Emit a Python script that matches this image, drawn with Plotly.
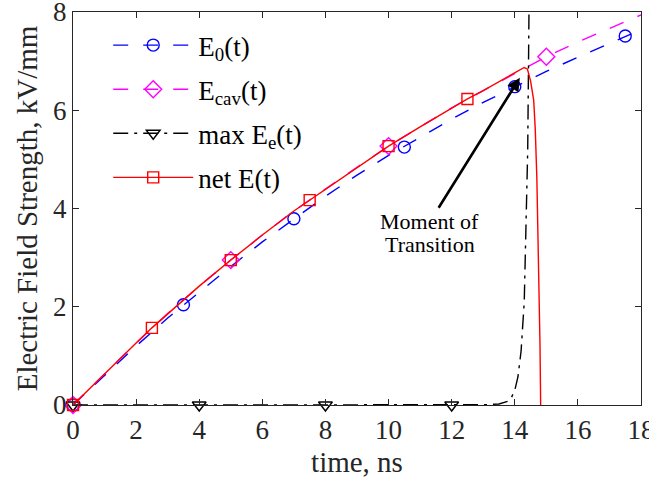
import plotly.graph_objects as go

# ---- data ----
t_grid = [0, 1, 2, 3, 4, 5, 6, 7, 8, 9, 10, 11, 12, 13, 14, 15, 16, 17, 18]
e0_vals = [0, 0.61, 1.20, 1.77, 2.30, 2.82, 3.32, 3.79, 4.25, 4.68, 5.08, 5.45,
           5.82, 6.16, 6.48, 6.79, 7.08, 7.36, 7.64]
ecav_vals = [0, 0.64, 1.26, 1.86, 2.42, 2.95, 3.46, 3.95, 4.40, 4.84, 5.27, 5.66,
             6.05, 6.40, 6.75, 7.09, 7.39, 7.67, 7.94]

t_net = [0, 1, 2, 2.5, 3, 4, 5, 6, 7, 7.5, 8, 9, 10, 11, 12, 12.5, 13, 14, 14.2,
         14.3, 14.4, 14.5, 14.6, 14.65, 14.7, 14.75, 14.8, 14.82]
net_vals = [0, 0.64, 1.26, 1.57, 1.86, 2.42, 2.95, 3.46, 3.95, 4.17, 4.40, 4.84,
            5.27, 5.66, 6.05, 6.23, 6.40, 6.75, 6.83, 6.87, 6.84, 6.60, 6.20,
            5.60, 4.60, 3.20, 1.20, 0]

t_ee = [0, 1, 2, 3, 4, 5, 6, 7, 8, 9, 10, 11, 12, 13, 13.5, 13.8, 13.9, 14.0,
        14.1, 14.2, 14.3, 14.35, 14.41, 14.45, 14.5]
ee_vals = [0, 0, 0, 0, 0, 0, 0, 0, 0, 0, 0, 0, 0, 0.005, 0.02, 0.08, 0.16, 0.30,
           0.57, 1.10, 2.10, 3.30, 5.20, 8.00, 11.0]

# marker positions
t_e0_mk = [0, 3.5, 7, 10.5, 14, 17.5]
e0_mk = [0, 2.04, 3.79, 5.25, 6.48, 7.51]
t_ecav_mk = [0, 5, 10, 15]
ecav_mk = [0, 2.95, 5.27, 7.09]
t_ee_mk = [0, 4, 8, 12]
ee_mk = [0, 0, 0, 0]
t_net_mk = [0, 2.5, 5, 7.5, 10, 12.5]
net_mk = [0, 1.57, 2.95, 4.17, 5.27, 6.23]

x_ticks = [0, 2, 4, 6, 8, 10, 12, 14, 16, 18]
y_ticks = [0, 2, 4, 6, 8]

BLUE = "#0000ff"
MAG = "#ff00ff"
BLK = "#000000"
RED = "#ff0000"
FONT = "Liberation Serif"
AX = "#262626"

series = [
    ("E<sub>0</sub>(t)", t_grid, e0_vals, t_e0_mk, e0_mk, BLUE, "longdash", "circle-open", 12),
    ("E<sub>cav</sub>(t)", t_grid, ecav_vals, t_ecav_mk, ecav_mk, MAG, "longdash", "diamond-open", 13),
    ("max E<sub>e</sub>(t)", t_ee, ee_vals, t_ee_mk, ee_mk, BLK, "longdashdot", "triangle-down-open", 12),
    ("net E(t)", t_net, net_vals, t_net_mk, net_mk, RED, "solid", "square-open", 11),
]

fig = go.Figure()
for i, (name, tx, vy, mx, my, col, dash, sym, ms) in enumerate(series):
    fig.add_trace(go.Scatter(x=tx, y=vy, mode="lines", showlegend=False,
                             line=dict(color=col, width=1.4, dash=dash),
                             hoverinfo="skip"))
    fig.add_trace(go.Scatter(x=mx, y=my, mode="markers", showlegend=False,
                             cliponaxis=False,
                             marker=dict(symbol=sym, size=ms, color=col,
                                         line=dict(color=col, width=1.4))))
    fig.add_trace(go.Scatter(x=[None], y=[None], mode="lines+markers", name=name,
                             legendgroup=str(i),
                             line=dict(color=col, width=1.4, dash=dash),
                             marker=dict(symbol=sym, size=ms, color=col,
                                         line=dict(color=col, width=1.4))))

# arrow + first text line
fig.add_annotation(x=14.16, y=6.66, xref="x", yref="y",
                   ax=11.31, ay=3.73, axref="x", ayref="y",
                   text="Moment of", showarrow=True,
                   arrowhead=2, arrowsize=1.0, arrowwidth=2.6, arrowcolor="black",
                   font=dict(family=FONT, size=22, color="black"),
                   align="center")
fig.add_annotation(x=11.31, y=3.27, xref="x", yref="y",
                   text="Transition", showarrow=False,
                   font=dict(family=FONT, size=22, color="black"),
                   align="center")

axis_common = dict(showline=True, linecolor=AX, linewidth=1.3, mirror="ticks",
                   ticks="inside", ticklen=6, tickwidth=1.3, tickcolor=AX,
                   showgrid=False, zeroline=False, ticklabeloverflow="allow",
                   automargin=False,
                   tickfont=dict(family=FONT, size=27, color=AX))

fig.update_layout(
    width=649, height=492,
    margin=dict(l=73, r=8, t=12, b=87),
    paper_bgcolor="white", plot_bgcolor="white",
    xaxis=dict(range=[0, 18], tickvals=x_ticks, ticktext=[str(v) for v in x_ticks],
               title=dict(text="time, ns", font=dict(family=FONT, size=29, color=AX),
                          standoff=8),
               **axis_common),
    yaxis=dict(range=[0, 8], tickvals=y_ticks, ticktext=[str(v) for v in y_ticks],
               title=dict(text="Electric Field Strength, kV/mm",
                          font=dict(family=FONT, size=29, color=AX), standoff=6),
               **axis_common),
    legend=dict(x=0.062, y=0.977, xanchor="left", yanchor="top",
                bgcolor="rgba(0,0,0,0)", borderwidth=0,
                font=dict(family=FONT, size=27, color="black"),
                traceorder="grouped", tracegroupgap=6, itemwidth=80),
    showlegend=True,
)

fig.write_html("out.html")
